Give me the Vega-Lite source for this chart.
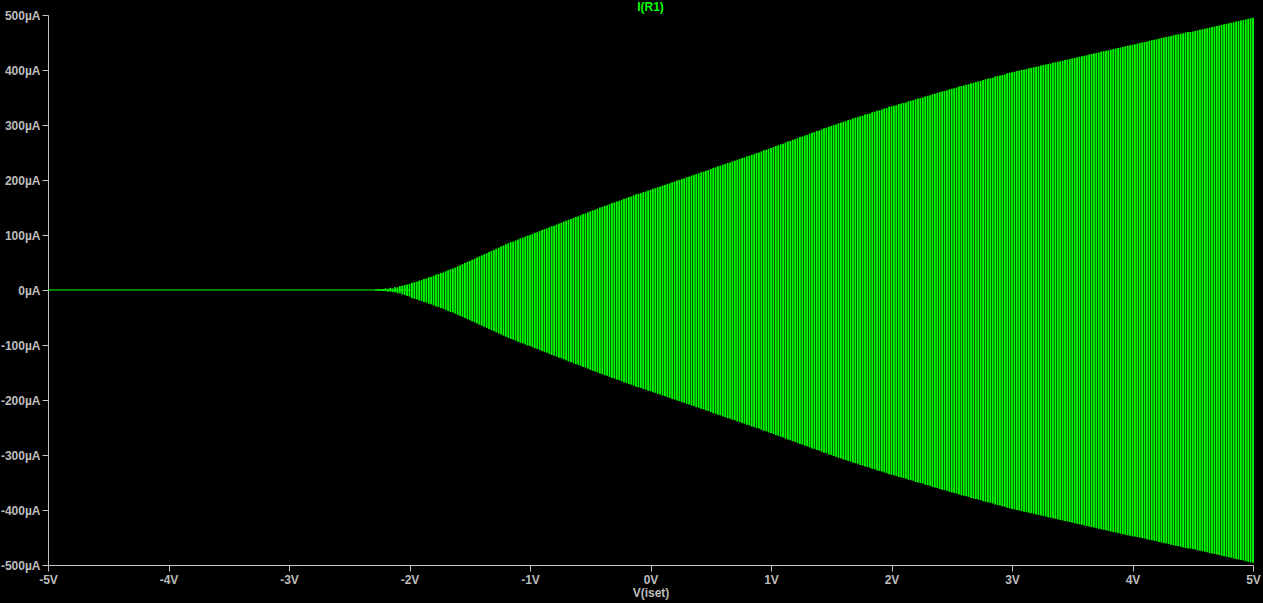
{
  "$schema": "https://vega.github.io/schema/vega-lite/v6.json",
  "autosize": {"type": "none"},
  "width": 1205,
  "height": 550,
  "padding": {"left": 48, "top": 15, "right": 10, "bottom": 38},
  "background": "#000000",
  "title": {"text": "I(R1)", "color": "#00ff00", "font": "Liberation Sans", "fontSize": 12, "fontWeight": "bold", "offset": -4.5, "anchor": "middle"},
  "config": {
    "view": {"stroke": null},
    "axis": {
      "grid": false,
      "domainColor": "#c4c4c4",
      "tickColor": "#c4c4c4",
      "labelColor": "#bdbdbd",
      "titleColor": "#bdbdbd",
      "labelFont": "Liberation Sans",
      "titleFont": "Liberation Sans",
      "labelFontSize": 12,
      "titleFontSize": 12,
      "labelFontWeight": "bold",
      "titleFontWeight": "bold",
      "tickSize": 6,
      "labelFlush": false,
      "labelOverlap": false
    }
  },
  "datasets": {
    "osc": [
{"v":-2.28,"h":1,"l":-1},{"v":-2.26,"h":2,"l":-1},{"v":-2.24,"h":1,"l":-2},{"v":-2.22,"h":2,"l":-2},{"v":-2.2,"h":3,"l":-2},
{"v":-2.18,"h":2,"l":-3},{"v":-2.16,"h":4,"l":-3},{"v":-2.14,"h":3,"l":-4},{"v":-2.12,"h":5,"l":-4},{"v":-2.1,"h":5,"l":-6},
{"v":-2.08,"h":7,"l":-6},{"v":-2.06,"h":8,"l":-8},{"v":-2.04,"h":9,"l":-9},{"v":-2.02,"h":10,"l":-11},{"v":-2,"h":11,"l":-12},
{"v":-1.98,"h":13,"l":-15},{"v":-1.96,"h":14,"l":-16},{"v":-1.94,"h":15,"l":-17},{"v":-1.92,"h":17,"l":-19},{"v":-1.9,"h":18,"l":-20},
{"v":-1.88,"h":20,"l":-22},{"v":-1.86,"h":21,"l":-23},{"v":-1.84,"h":23,"l":-25},{"v":-1.82,"h":24,"l":-26},{"v":-1.8,"h":26,"l":-28},
{"v":-1.78,"h":28,"l":-30},{"v":-1.76,"h":29,"l":-31},{"v":-1.74,"h":31,"l":-33},{"v":-1.72,"h":32,"l":-34},{"v":-1.7,"h":34,"l":-36},
{"v":-1.68,"h":36,"l":-38},{"v":-1.66,"h":38,"l":-40},{"v":-1.64,"h":39,"l":-41},{"v":-1.62,"h":41,"l":-43},{"v":-1.6,"h":43,"l":-45},
{"v":-1.58,"h":45,"l":-47},{"v":-1.56,"h":47,"l":-49},{"v":-1.54,"h":49,"l":-51},{"v":-1.52,"h":51,"l":-53},{"v":-1.5,"h":53,"l":-55},
{"v":-1.48,"h":55,"l":-57},{"v":-1.46,"h":57,"l":-59},{"v":-1.44,"h":59,"l":-61},{"v":-1.42,"h":61,"l":-63},{"v":-1.4,"h":63,"l":-65},
{"v":-1.38,"h":65,"l":-67},{"v":-1.36,"h":67,"l":-69},{"v":-1.34,"h":69,"l":-71},{"v":-1.32,"h":71,"l":-73},{"v":-1.3,"h":73,"l":-75},
{"v":-1.28,"h":75,"l":-77},{"v":-1.26,"h":77,"l":-79},{"v":-1.24,"h":79,"l":-81},{"v":-1.22,"h":81,"l":-83},{"v":-1.2,"h":83,"l":-85},
{"v":-1.18,"h":85,"l":-87},{"v":-1.16,"h":87,"l":-89},{"v":-1.14,"h":88,"l":-90},{"v":-1.12,"h":90,"l":-92},{"v":-1.1,"h":92,"l":-94},
{"v":-1.08,"h":94,"l":-96},{"v":-1.06,"h":95,"l":-97},{"v":-1.04,"h":97,"l":-99},{"v":-1.02,"h":99,"l":-101},{"v":-1,"h":100,"l":-102},
{"v":-0.98,"h":102,"l":-104},{"v":-0.96,"h":104,"l":-106},{"v":-0.94,"h":105,"l":-107},{"v":-0.92,"h":107,"l":-109},{"v":-0.9,"h":109,"l":-111},
{"v":-0.88,"h":111,"l":-113},{"v":-0.86,"h":112,"l":-114},{"v":-0.84,"h":114,"l":-116},{"v":-0.82,"h":116,"l":-118},{"v":-0.8,"h":117,"l":-119},
{"v":-0.78,"h":119,"l":-121},{"v":-0.76,"h":121,"l":-123},{"v":-0.74,"h":122,"l":-124},{"v":-0.72,"h":124,"l":-126},{"v":-0.7,"h":126,"l":-128},
{"v":-0.68,"h":128,"l":-130},{"v":-0.66,"h":129,"l":-131},{"v":-0.64,"h":131,"l":-133},{"v":-0.62,"h":133,"l":-135},{"v":-0.6,"h":134,"l":-136},
{"v":-0.58,"h":136,"l":-138},{"v":-0.56,"h":138,"l":-140},{"v":-0.54,"h":139,"l":-141},{"v":-0.52,"h":141,"l":-143},{"v":-0.5,"h":143,"l":-145},
{"v":-0.48,"h":145,"l":-147},{"v":-0.46,"h":146,"l":-148},{"v":-0.44,"h":148,"l":-150},{"v":-0.42,"h":150,"l":-152},{"v":-0.4,"h":151,"l":-153},
{"v":-0.38,"h":153,"l":-155},{"v":-0.36,"h":154,"l":-156},{"v":-0.34,"h":156,"l":-158},{"v":-0.32,"h":158,"l":-160},{"v":-0.3,"h":159,"l":-161},
{"v":-0.28,"h":161,"l":-163},{"v":-0.26,"h":162,"l":-164},{"v":-0.24,"h":164,"l":-166},{"v":-0.22,"h":166,"l":-168},{"v":-0.2,"h":167,"l":-169},
{"v":-0.18,"h":169,"l":-171},{"v":-0.16,"h":170,"l":-172},{"v":-0.14,"h":172,"l":-174},{"v":-0.12,"h":174,"l":-176},{"v":-0.1,"h":175,"l":-177},
{"v":-0.08,"h":176,"l":-178},{"v":-0.06,"h":178,"l":-180},{"v":-0.04,"h":179,"l":-181},{"v":-0.02,"h":181,"l":-183},{"v":0,"h":182,"l":-184},
{"v":0.02,"h":184,"l":-186},{"v":0.04,"h":185,"l":-187},{"v":0.06,"h":187,"l":-189},{"v":0.08,"h":188,"l":-190},{"v":0.1,"h":190,"l":-192},
{"v":0.12,"h":191,"l":-193},{"v":0.14,"h":193,"l":-195},{"v":0.16,"h":194,"l":-196},{"v":0.18,"h":196,"l":-198},{"v":0.2,"h":197,"l":-199},
{"v":0.22,"h":199,"l":-201},{"v":0.24,"h":200,"l":-202},{"v":0.26,"h":202,"l":-204},{"v":0.28,"h":203,"l":-205},{"v":0.3,"h":205,"l":-207},
{"v":0.32,"h":206,"l":-208},{"v":0.34,"h":208,"l":-210},{"v":0.36,"h":209,"l":-211},{"v":0.38,"h":211,"l":-213},{"v":0.4,"h":212,"l":-214},
{"v":0.42,"h":214,"l":-216},{"v":0.44,"h":215,"l":-217},{"v":0.46,"h":217,"l":-219},{"v":0.48,"h":218,"l":-220},{"v":0.5,"h":220,"l":-222},
{"v":0.52,"h":222,"l":-224},{"v":0.54,"h":223,"l":-225},{"v":0.56,"h":225,"l":-227},{"v":0.58,"h":226,"l":-228},{"v":0.6,"h":228,"l":-230},
{"v":0.62,"h":229,"l":-231},{"v":0.64,"h":231,"l":-233},{"v":0.66,"h":232,"l":-234},{"v":0.68,"h":234,"l":-236},{"v":0.7,"h":235,"l":-237},
{"v":0.72,"h":237,"l":-239},{"v":0.74,"h":238,"l":-240},{"v":0.76,"h":240,"l":-242},{"v":0.78,"h":241,"l":-243},{"v":0.8,"h":243,"l":-245},
{"v":0.82,"h":244,"l":-246},{"v":0.84,"h":246,"l":-248},{"v":0.86,"h":247,"l":-249},{"v":0.88,"h":249,"l":-251},{"v":0.9,"h":250,"l":-252},
{"v":0.92,"h":252,"l":-254},{"v":0.94,"h":254,"l":-256},{"v":0.96,"h":255,"l":-257},{"v":0.98,"h":257,"l":-259},{"v":1,"h":258,"l":-260},
{"v":1.02,"h":260,"l":-262},{"v":1.04,"h":262,"l":-264},{"v":1.06,"h":263,"l":-265},{"v":1.08,"h":265,"l":-267},{"v":1.1,"h":266,"l":-268},
{"v":1.12,"h":268,"l":-270},{"v":1.14,"h":270,"l":-272},{"v":1.16,"h":271,"l":-273},{"v":1.18,"h":273,"l":-275},{"v":1.2,"h":274,"l":-276},
{"v":1.22,"h":276,"l":-278},{"v":1.24,"h":278,"l":-280},{"v":1.26,"h":279,"l":-281},{"v":1.28,"h":281,"l":-283},{"v":1.3,"h":282,"l":-284},
{"v":1.32,"h":284,"l":-286},{"v":1.34,"h":286,"l":-288},{"v":1.36,"h":287,"l":-289},{"v":1.38,"h":289,"l":-291},{"v":1.4,"h":290,"l":-292},
{"v":1.42,"h":292,"l":-294},{"v":1.44,"h":294,"l":-296},{"v":1.46,"h":295,"l":-297},{"v":1.48,"h":297,"l":-299},{"v":1.5,"h":298,"l":-300},
{"v":1.52,"h":300,"l":-302},{"v":1.54,"h":301,"l":-303},{"v":1.56,"h":303,"l":-305},{"v":1.58,"h":304,"l":-306},{"v":1.6,"h":306,"l":-308},
{"v":1.62,"h":307,"l":-309},{"v":1.64,"h":309,"l":-311},{"v":1.66,"h":310,"l":-312},{"v":1.68,"h":312,"l":-314},{"v":1.7,"h":313,"l":-315},
{"v":1.72,"h":314,"l":-316},{"v":1.74,"h":316,"l":-318},{"v":1.76,"h":317,"l":-319},{"v":1.78,"h":319,"l":-321},{"v":1.8,"h":320,"l":-322},
{"v":1.82,"h":321,"l":-323},{"v":1.84,"h":323,"l":-325},{"v":1.86,"h":324,"l":-326},{"v":1.88,"h":326,"l":-328},{"v":1.9,"h":327,"l":-329},
{"v":1.92,"h":328,"l":-330},{"v":1.94,"h":330,"l":-332},{"v":1.96,"h":331,"l":-333},{"v":1.98,"h":333,"l":-335},{"v":2,"h":334,"l":-336},
{"v":2.02,"h":335,"l":-337},{"v":2.04,"h":336,"l":-338},{"v":2.06,"h":338,"l":-340},{"v":2.08,"h":339,"l":-341},{"v":2.1,"h":340,"l":-342},
{"v":2.12,"h":341,"l":-343},{"v":2.14,"h":343,"l":-345},{"v":2.16,"h":344,"l":-346},{"v":2.18,"h":345,"l":-347},{"v":2.2,"h":347,"l":-349},
{"v":2.22,"h":348,"l":-350},{"v":2.24,"h":349,"l":-351},{"v":2.26,"h":350,"l":-352},{"v":2.28,"h":352,"l":-354},{"v":2.3,"h":353,"l":-355},
{"v":2.32,"h":354,"l":-356},{"v":2.34,"h":356,"l":-358},{"v":2.36,"h":357,"l":-359},{"v":2.38,"h":358,"l":-360},{"v":2.4,"h":360,"l":-362},
{"v":2.42,"h":361,"l":-363},{"v":2.44,"h":362,"l":-364},{"v":2.46,"h":363,"l":-365},{"v":2.48,"h":365,"l":-367},{"v":2.5,"h":366,"l":-368},
{"v":2.52,"h":367,"l":-369},{"v":2.54,"h":368,"l":-370},{"v":2.56,"h":370,"l":-372},{"v":2.58,"h":371,"l":-373},{"v":2.6,"h":372,"l":-374},
{"v":2.62,"h":373,"l":-375},{"v":2.64,"h":374,"l":-376},{"v":2.66,"h":376,"l":-378},{"v":2.68,"h":377,"l":-379},{"v":2.7,"h":378,"l":-380},
{"v":2.72,"h":379,"l":-381},{"v":2.74,"h":380,"l":-382},{"v":2.76,"h":382,"l":-384},{"v":2.78,"h":383,"l":-385},{"v":2.8,"h":384,"l":-386},
{"v":2.82,"h":385,"l":-387},{"v":2.84,"h":386,"l":-388},{"v":2.86,"h":388,"l":-390},{"v":2.88,"h":389,"l":-391},{"v":2.9,"h":390,"l":-392},
{"v":2.92,"h":391,"l":-393},{"v":2.94,"h":392,"l":-394},{"v":2.96,"h":394,"l":-396},{"v":2.98,"h":395,"l":-397},{"v":3,"h":396,"l":-398},
{"v":3.02,"h":397,"l":-399},{"v":3.04,"h":398,"l":-400},{"v":3.06,"h":399,"l":-401},{"v":3.08,"h":400,"l":-402},{"v":3.1,"h":401,"l":-403},
{"v":3.12,"h":402,"l":-404},{"v":3.14,"h":403,"l":-405},{"v":3.16,"h":404,"l":-406},{"v":3.18,"h":405,"l":-407},{"v":3.2,"h":406,"l":-408},
{"v":3.22,"h":407,"l":-409},{"v":3.24,"h":408,"l":-410},{"v":3.26,"h":409,"l":-411},{"v":3.28,"h":410,"l":-412},{"v":3.3,"h":411,"l":-413},
{"v":3.32,"h":412,"l":-414},{"v":3.34,"h":413,"l":-415},{"v":3.36,"h":414,"l":-416},{"v":3.38,"h":415,"l":-417},{"v":3.4,"h":416,"l":-418},
{"v":3.42,"h":417,"l":-419},{"v":3.44,"h":418,"l":-420},{"v":3.46,"h":419,"l":-421},{"v":3.48,"h":420,"l":-422},{"v":3.5,"h":421,"l":-423},
{"v":3.52,"h":422,"l":-424},{"v":3.54,"h":423,"l":-425},{"v":3.56,"h":424,"l":-426},{"v":3.58,"h":425,"l":-427},{"v":3.6,"h":426,"l":-428},
{"v":3.62,"h":427,"l":-429},{"v":3.64,"h":428,"l":-430},{"v":3.66,"h":429,"l":-431},{"v":3.68,"h":430,"l":-432},{"v":3.7,"h":431,"l":-433},
{"v":3.72,"h":432,"l":-434},{"v":3.74,"h":433,"l":-435},{"v":3.76,"h":434,"l":-436},{"v":3.78,"h":435,"l":-437},{"v":3.8,"h":436,"l":-438},
{"v":3.82,"h":437,"l":-439},{"v":3.84,"h":438,"l":-440},{"v":3.86,"h":439,"l":-441},{"v":3.88,"h":440,"l":-442},{"v":3.9,"h":441,"l":-443},
{"v":3.92,"h":442,"l":-444},{"v":3.94,"h":443,"l":-445},{"v":3.96,"h":444,"l":-446},{"v":3.98,"h":445,"l":-447},{"v":4,"h":446,"l":-448},
{"v":4.02,"h":447,"l":-448},{"v":4.04,"h":448,"l":-449},{"v":4.06,"h":449,"l":-450},{"v":4.08,"h":450,"l":-451},{"v":4.1,"h":451,"l":-452},
{"v":4.12,"h":452,"l":-453},{"v":4.14,"h":453,"l":-454},{"v":4.16,"h":454,"l":-455},{"v":4.18,"h":455,"l":-456},{"v":4.2,"h":456,"l":-457},
{"v":4.22,"h":457,"l":-458},{"v":4.24,"h":458,"l":-459},{"v":4.26,"h":459,"l":-460},{"v":4.28,"h":460,"l":-461},{"v":4.3,"h":461,"l":-462},
{"v":4.32,"h":462,"l":-463},{"v":4.34,"h":463,"l":-464},{"v":4.36,"h":464,"l":-465},{"v":4.38,"h":465,"l":-466},{"v":4.4,"h":466,"l":-467},
{"v":4.42,"h":467,"l":-468},{"v":4.44,"h":468,"l":-469},{"v":4.46,"h":469,"l":-470},{"v":4.48,"h":469,"l":-470},{"v":4.5,"h":470,"l":-471},
{"v":4.52,"h":471,"l":-472},{"v":4.54,"h":472,"l":-473},{"v":4.56,"h":473,"l":-474},{"v":4.58,"h":474,"l":-475},{"v":4.6,"h":475,"l":-476},
{"v":4.62,"h":476,"l":-477},{"v":4.64,"h":477,"l":-478},{"v":4.66,"h":478,"l":-479},{"v":4.68,"h":479,"l":-480},{"v":4.7,"h":480,"l":-481},
{"v":4.72,"h":481,"l":-482},{"v":4.74,"h":482,"l":-483},{"v":4.76,"h":483,"l":-484},{"v":4.78,"h":484,"l":-485},{"v":4.8,"h":485,"l":-486},
{"v":4.82,"h":486,"l":-487},{"v":4.84,"h":487,"l":-488},{"v":4.86,"h":488,"l":-489},{"v":4.88,"h":489,"l":-490},{"v":4.9,"h":490,"l":-491},
{"v":4.92,"h":491,"l":-492},{"v":4.94,"h":492,"l":-493},{"v":4.96,"h":493,"l":-494},{"v":4.98,"h":494,"l":-495},{"v":5,"h":495,"l":-496}
    ],
    "flat": [{"a": -5, "b": -2.0, "i": 0}]
  },
  "layer": [
    {
      "data": {"name": "flat"},
      "mark": {"type": "rule", "color": "#00ff00", "strokeWidth": 1},
      "encoding": {
        "x": {"field": "a", "type": "quantitative", "scale": {"domain": [-5, 5], "nice": false, "zero": false},
          "axis": {"values": [-5,-4,-3,-2,-1,0,1,2,3,4,5], "labelExpr": "datum.value + 'V'", "title": "V(iset)", "labelPadding": 3, "titlePadding": 2}},
        "x2": {"field": "b"},
        "y": {"field": "i", "type": "quantitative", "scale": {"domain": [-500, 500], "nice": false, "zero": false},
          "axis": {"values": [-500,-400,-300,-200,-100,0,100,200,300,400,500], "labelExpr": "datum.value + 'µA'", "title": null, "labelPadding": 2}}
      }
    },
    {
      "data": {"name": "osc"},
      "mark": {"type": "rule", "color": "#00ff00", "strokeWidth": 1.8},
      "encoding": {
        "x": {"field": "v", "type": "quantitative"},
        "y": {"field": "h", "type": "quantitative"},
        "y2": {"field": "l"}
      }
    },
    {
      "mark": {"type": "rule", "color": "#c4c4c4", "strokeWidth": 1},
      "encoding": {"y": {"datum": 500}}
    }
  ]
}
